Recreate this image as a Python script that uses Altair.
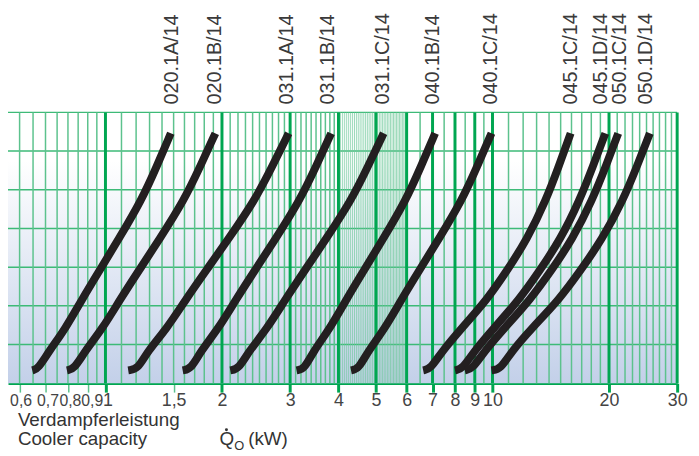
import altair as alt
import pandas as pd

# ---- data -------------------------------------------------------------
curve_names = ["020.1A/14", "020.1B/14", "031.1A/14", "031.1B/14", "031.1C/14",
               "040.1B/14", "040.1C/14", "045.1C/14", "045.1D/14", "050.1C/14",
               "050.1D/14"]

# vertical position of the read points (chart units, 0..7 grid)
y_levels = [0.33, 0.37, 0.82, 1.41, 2.17, 2.94, 3.70, 4.73, 5.62, 6.46]

# cooler capacity (kW) of each curve at the y levels above
cap_020_1A = [0.647, 0.670, 0.714, 0.788, 0.870, 0.969, 1.078, 1.240, 1.359, 1.475]
cap_020_1B = [0.795, 0.831, 0.884, 0.982, 1.092, 1.225, 1.374, 1.597, 1.760, 1.923]
cap_031_1A = [1.145, 1.215, 1.283, 1.440, 1.614, 1.828, 2.069, 2.434, 2.703, 2.973]
cap_031_1B = [1.583, 1.665, 1.760, 1.957, 2.176, 2.441, 2.737, 3.181, 3.506, 3.830]
cap_031_1C = [2.101, 2.210, 2.344, 2.615, 2.917, 3.286, 3.698, 4.321, 4.775, 5.233]
cap_040_1B = [3.116, 3.270, 3.441, 3.798, 4.194, 4.668, 5.196, 5.977, 6.545, 7.108]
cap_040_1C = [4.309, 4.510, 4.761, 5.267, 5.821, 6.492, 7.234, 8.344, 9.144, 9.940]
cap_045_1C = [6.62, 6.92, 7.40, 8.30, 9.70, 10.95, 12.25, 13.75, 14.85, 15.92]
cap_045_1D = [8.00, 8.37, 8.95, 10.05, 11.75, 13.30, 14.95, 16.80, 18.20, 19.57]
cap_050_1C = [8.48, 8.88, 9.52, 10.70, 12.55, 14.25, 16.05, 18.10, 19.65, 21.13]
cap_050_1D = [9.94, 10.50, 11.20, 12.60, 14.90, 16.95, 19.15, 21.75, 23.65, 25.50]

curve_caps = [cap_020_1A, cap_020_1B, cap_031_1A, cap_031_1B, cap_031_1C,
              cap_040_1B, cap_040_1C, cap_045_1C, cap_045_1D, cap_050_1C,
              cap_050_1D]

# x position (kW) of the rotated labels on top
label_x = [1.49, 1.92, 2.94, 3.76, 5.23, 7.02, 9.94, 15.92, 19.11, 21.38, 24.91]

# axis tick labels
tick_values = [0.6, 0.7, 0.8, 0.9, 1, 1.5, 2, 3, 4, 5, 6, 7, 8, 9, 10, 20, 30]

# grid lines
major_grid = [1, 2, 3, 4, 5, 6, 7, 8, 9, 10, 20, 30]
minor_grid = ([0.6, 0.65, 0.7, 0.75, 0.8, 0.85, 0.9, 0.95]
              + [1.1, 1.2, 1.3, 1.4, 1.5, 1.6, 1.7, 1.8, 1.9]
              + [2.1, 2.2, 2.3, 2.4, 2.5, 2.6, 2.7, 2.8, 2.9]
              + [3.1, 3.2, 3.3, 3.4, 3.5, 3.6, 3.7, 3.8, 3.9]
              + [6.5, 7.5, 8.5, 9.5]
              + [11, 12, 13, 14, 15, 16, 17, 18, 19]
              + [21, 22, 23, 24, 25, 26, 27, 28, 29])
dense_grid = ([4.05, 4.1, 4.15, 4.2, 4.25, 4.3, 4.35, 4.4, 4.45, 4.5,
               4.55, 4.6, 4.65, 4.7, 4.75, 4.8, 4.85, 4.9, 4.95]
              + [5.05, 5.1, 5.15, 5.2, 5.25, 5.3, 5.35, 5.4, 5.45, 5.5,
                 5.55, 5.6, 5.65, 5.7, 5.75, 5.8, 5.85, 5.9, 5.95])
h_grid = [1, 2, 3, 4, 5, 6, 7]

# ---- tables -------------------------------------------------------------
rows = []
for name, caps in zip(curve_names, curve_caps):
    for i, (c, y) in enumerate(zip(caps, y_levels)):
        rows.append({"name": name, "i": i, "kw": c, "y": y})
curves = pd.DataFrame(rows)
labels = pd.DataFrame({"name": curve_names, "kw": label_x})
major_df = pd.DataFrame({"kw": major_grid})
minor_df = pd.DataFrame({"kw": minor_grid})
dense_df = pd.DataFrame({"kw": dense_grid})
hgrid_df = pd.DataFrame({"y": h_grid})

W, H = 677, 274
FONT = "Liberation Sans"
GREEN = "#00a651"
GREEN_LIGHT = "#5cc28d"

xscale = alt.Scale(type="log", domain=[0.56, 30], nice=False)
yscale = alt.Scale(domain=[0, 7], nice=False)

test = "datum.value >= 1 && datum.value != 1.5"
xaxis = alt.Axis(
    values=tick_values, title=None, grid=False,
    labelExpr="replace(toString(datum.value), '.', ',')",
    labelFont=FONT, labelColor="#444444",
    labelFontSize={"condition": {"test": "datum.value < 1", "value": 16}, "value": 18},
    labelOffset={"condition": [
        {"test": "datum.value == 0.6", "value": 1},
        {"test": "datum.value == 0.7", "value": 2},
        {"test": "datum.value == 0.8", "value": 2},
        {"test": "datum.value == 0.9", "value": 4},
        {"test": "datum.value == 1", "value": 2}], "value": 0},
    labelBaseline="alphabetic", labelPadding=14,
    labelOverlap=False, labelBound=False, labelFlush=False,
    domainColor=GREEN, domainWidth=2.5,
    tickSize=9,
    tickColor={"condition": {"test": test, "value": GREEN}, "value": GREEN_LIGHT},
    tickWidth={"condition": {"test": test, "value": 3}, "value": 1.5})

def X():
    return alt.X("kw:Q", scale=xscale, axis=xaxis)

grad = alt.LinearGradient(
    gradient="linear",
    stops=[alt.GradientStop(color="#ffffff", offset=0),
           alt.GradientStop(color="#ffffff", offset=0.18),
           alt.GradientStop(color="#c3d0e9", offset=1)],
    x1=0, x2=0, y1=0, y2=1)

bg = alt.Chart(pd.DataFrame({"a": [0]})).mark_rect(fill=grad).encode(
    x=alt.value(0), x2=alt.value(W), y=alt.value(0), y2=alt.value(H))

hrules = alt.Chart(hgrid_df).mark_rule(color="#3dba77", strokeWidth=1.5).encode(
    y=alt.Y("y:Q", scale=yscale, axis=None))

minor_rules = alt.Chart(minor_df).mark_rule(color=GREEN_LIGHT, strokeWidth=1.5).encode(
    x=X())

dense_rules = alt.Chart(dense_df).mark_rule(
    color="#6cc898", strokeWidth=0.8, opacity=0.85).encode(x=X())

major_rules = alt.Chart(major_df).mark_rule(color=GREEN, strokeWidth=3).encode(
    x=X())

lines = alt.Chart(curves).mark_line(
    color="#231f20", strokeWidth=8, strokeCap="butt", strokeJoin="round",
    interpolate="basis").encode(
    x=X(),
    y=alt.Y("y:Q", scale=yscale, axis=None),
    detail="name:N",
    order="i:Q")

top_labels = alt.Chart(labels).mark_text(
    angle=270, align="left", baseline="middle", dx=8,
    font=FONT, fontSize=20, color="#3a3a3a").encode(
    x=X(),
    y=alt.value(0),
    text="name:N")

def txt(s, x, y, size=19, align="left"):
    return alt.Chart(pd.DataFrame({"t": [s]})).mark_text(
        align=align, baseline="alphabetic", font=FONT, fontSize=size,
        color="#333333").encode(x=alt.value(x), y=alt.value(y), text="t:N")

t1 = txt("Verdampferleistung", 10, 317)
t2 = txt("Cooler capacity", 10, 337)
t3 = txt("Q", 214, 337)
t4 = txt("O", 229, 342, size=13)
t5 = txt("(kW)", 243, 337)
dot = alt.Chart(pd.DataFrame({"a": [0]})).mark_circle(
    color="#333333", size=9, opacity=1).encode(x=alt.value(221), y=alt.value(321))

chart = alt.layer(bg, hrules, minor_rules, dense_rules, major_rules, lines,
                  top_labels, t1, t2, t3, t4, t5, dot).properties(
    width=W, height=H,
    autosize=alt.AutoSizeParams(type="none"),
    padding={"left": 0, "top": 103, "right": 14, "bottom": 68},
).configure_view(stroke=None)

chart.save("out.html", embed_options={"renderer": "svg", "actions": False})
